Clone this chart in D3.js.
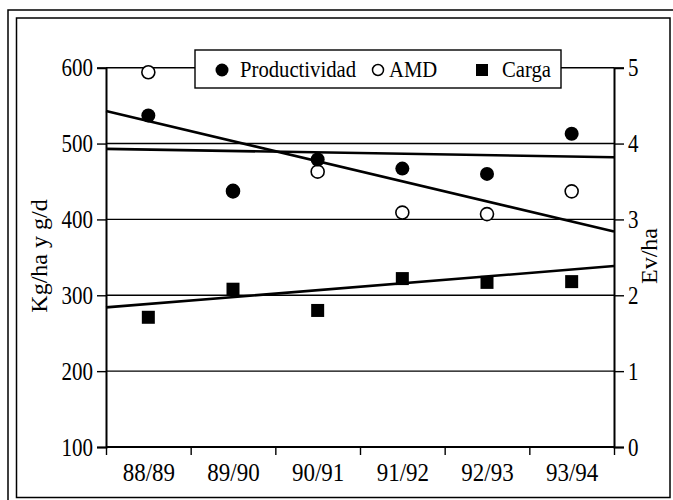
<!DOCTYPE html>
<html>
<head>
<meta charset="utf-8">
<script src="https://cdn.jsdelivr.net/npm/d3@7"></script>
<style>
  body { margin: 0; background: #fff; }
  text { font-family: "Liberation Serif", "Times New Roman", serif; fill: #000; }
</style>
</head>
<body>
<svg id="chart" width="673" height="500"></svg>
<script>
// campañas
var seasons = ["88/89", "89/90", "90/91", "91/92", "92/93", "93/94"];

// Kg/ha y g/d (eje izquierdo)
var productividad = [537, 438, 479, 467, 460, 513];
var amd = [594, 437, 463, 409, 407, 437];

// Ev/ha (eje derecho)
var carga = [1.71, 2.08, 1.80, 2.22, 2.17, 2.18];

// lineas de tendencia: valor al borde izquierdo y derecho
var trendProd = [493, 482];
var trendAmd = [543, 384];
var trendCarga = [1.84, 2.385];

var leftTicks = [100, 200, 300, 400, 500, 600];
var rightTicks = [0, 1, 2, 3, 4, 5];

var svg = d3.select("#chart");
var pLeft = 106, pRight = 614, pTop = 67.7, pBottom = 447;

var xi = d3.scaleLinear().domain([0.5, seasons.length + 0.5]).range([pLeft, pRight]);
var yL = d3.scaleLinear().domain([100, 600]).range([pBottom, pTop]);
var yR = d3.scaleLinear().domain([0, 5]).range([pBottom, pTop]);

// marcos
svg.append("rect").attr("width", 673).attr("height", 500).attr("fill", "#fff");
svg.append("rect").attr("x", 8).attr("y", 10).attr("width", 680).attr("height", 500)
  .attr("fill", "none").attr("stroke", "#000").attr("stroke-width", 1.5);
svg.append("rect").attr("x", 16.5).attr("y", 18).attr("width", 653.5).attr("height", 479.5)
  .attr("fill", "none").attr("stroke", "#000").attr("stroke-width", 1.5);

// grilla
svg.append("g").selectAll("line")
  .data(leftTicks)
  .enter()
  .append("line")
  .attr("x1", pLeft).attr("x2", pRight)
  .attr("y1", function(d) { return yL(d); })
  .attr("y2", function(d) { return yL(d); })
  .attr("stroke", "#000")
  .attr("stroke-width", function(d) { return d == 100 ? 2 : 1.4; });

// letras angostas y altas, como en el original
function squish(sel, sx) {
  sel.selectAll("text").each(function() {
    var t = d3.select(this);
    var x = +t.attr("x") || 0;
    t.attr("x", x / sx).attr("transform", "scale(" + sx + ",1)");
  });
}

var gL = svg.append("g").attr("transform", "translate(" + pLeft + ",0)")
  .call(d3.axisLeft(yL).tickValues(leftTicks).tickSize(9).tickPadding(4).tickFormat(d3.format("d")));
var gR = svg.append("g").attr("transform", "translate(" + pRight + ",0)")
  .call(d3.axisRight(yR).tickValues(rightTicks).tickSize(10).tickPadding(4).tickFormat(d3.format("d")));
var gB = svg.append("g").attr("transform", "translate(0," + pBottom + ")")
  .call(d3.axisBottom(xi).tickValues(d3.range(0.5, seasons.length + 1, 1)).tickSize(8).tickFormat(""));
var gBL = svg.append("g").attr("transform", "translate(0," + pBottom + ")")
  .call(d3.axisBottom(xi).tickValues(d3.range(1, seasons.length + 1)).tickSize(0).tickPadding(18)
    .tickFormat(function(d) { return seasons[d - 1]; }));
gBL.select(".domain").remove();
gB.select(".domain").remove();

[gL, gR, gB, gBL].forEach(function(g) {
  g.selectAll(".domain").attr("stroke-width", 2).attr("stroke", "#000");
  g.selectAll(".tick line").attr("stroke-width", 1.4).attr("stroke", "#000");
  g.selectAll("text").attr("font-size", 25).attr("font-family", null).attr("fill", "#000");
});
gBL.selectAll("text").attr("dy", "0.66em");
squish(gL, 0.84); squish(gR, 0.84); squish(gBL, 0.92);

// titulos de ejes
svg.append("text")
  .attr("transform", "translate(47,256) rotate(-90)")
  .attr("text-anchor", "middle")
  .attr("font-size", 24)
  .text("Kg/ha y g/d");
svg.append("text")
  .attr("transform", "translate(657,256) rotate(-90)")
  .attr("text-anchor", "middle")
  .attr("font-size", 24)
  .text("Ev/ha");

// tendencias
function trend(vals, y) {
  svg.append("line")
    .attr("x1", xi(0.5)).attr("x2", xi(seasons.length + 0.5))
    .attr("y1", y(vals[0])).attr("y2", y(vals[1]))
    .attr("stroke", "#000").attr("stroke-width", 2.6);
}
trend(trendProd, yL);
trend(trendAmd, yL);
trend(trendCarga, yR);

// puntos
svg.append("g").selectAll("circle")
  .data(amd)
  .enter()
  .append("circle")
  .attr("cx", function(d, i) { return xi(i + 1); })
  .attr("cy", function(d) { return yL(d); })
  .attr("r", 6.5)
  .attr("fill", "#fff").attr("stroke", "#000").attr("stroke-width", 1.6);

svg.append("g").selectAll("circle")
  .data(productividad)
  .enter()
  .append("circle")
  .attr("cx", function(d, i) { return xi(i + 1); })
  .attr("cy", function(d) { return yL(d); })
  .attr("r", 7)
  .attr("fill", "#000");

svg.append("g").selectAll("rect")
  .data(carga)
  .enter()
  .append("rect")
  .attr("x", function(d, i) { return xi(i + 1) - 6.5; })
  .attr("y", function(d) { return yR(d) - 6.5; })
  .attr("width", 13).attr("height", 13)
  .attr("fill", "#000");

// leyenda
var leg = svg.append("g");
leg.append("rect").attr("x", 195).attr("y", 50).attr("width", 366).attr("height", 38)
  .attr("fill", "#fff").attr("stroke", "#000").attr("stroke-width", 1.4);
leg.append("circle").attr("cx", 222).attr("cy", 70).attr("r", 6.5).attr("fill", "#000");
leg.append("circle").attr("cx", 378).attr("cy", 70).attr("r", 5.5)
  .attr("fill", "#fff").attr("stroke", "#000").attr("stroke-width", 1.5);
leg.append("rect").attr("x", 476).attr("y", 64).attr("width", 12).attr("height", 12).attr("fill", "#000");

var LSX = 0.9;
var legText = [["Productividad", 240], ["AMD", 389], ["Carga", 502]];
leg.selectAll("text.l")
  .data(legText)
  .enter()
  .append("text")
  .attr("class", "l")
  .attr("x", function(d) { return d[1] / LSX; })
  .attr("y", 77)
  .attr("transform", "scale(" + LSX + ",1)")
  .attr("font-size", 23)
  .text(function(d) { return d[0]; });
</script>
</body>
</html>
